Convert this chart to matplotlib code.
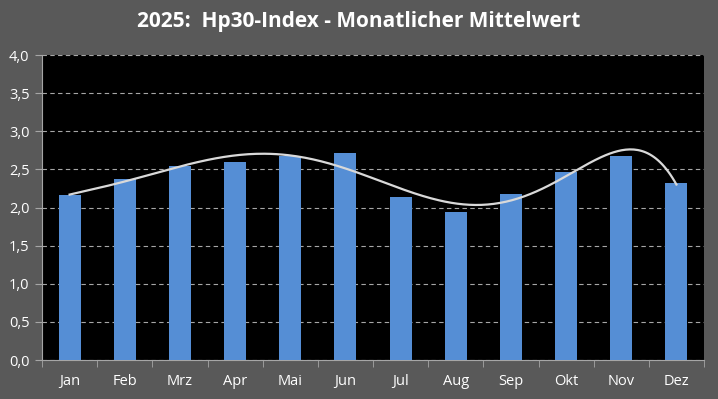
import numpy as np
import matplotlib.pyplot as plt
from matplotlib.ticker import FixedLocator, FuncFormatter

# Daten
monate = ['Jan', 'Feb', 'Mrz', 'Apr', 'Mai', 'Jun', 'Jul', 'Aug', 'Sep', 'Okt', 'Nov', 'Dez']
hp30 = [2.16, 2.37, 2.55, 2.60, 2.67, 2.71, 2.14, 1.94, 2.18, 2.47, 2.68, 2.32]

bg = '#595959'
bar_c = '#558ED5'

plt.rcParams['font.family'] = ['Open Sans', 'DejaVu Sans']

fig = plt.figure(figsize=(7.18, 3.99), dpi=100, facecolor=bg)
ax = fig.add_axes([0.0585, 0.0977, 0.922, 0.7643])
ax.set_facecolor('black')

x = np.arange(len(monate))
ax.bar(x, hp30, width=0.4, color=bar_c, zorder=3)

# polynomische Trendlinie (Ordnung 6), wie in Excel
coef = np.polyfit(x, hp30, 6)
xs = np.linspace(x[0], x[-1], 300)
ax.plot(xs, np.polyval(coef, xs), color='#d9d9d9', lw=1.6, zorder=4)

ax.set_xlim(-0.5, len(monate) - 0.5)
ax.set_ylim(0, 4.0)
ax.set_yticks(np.arange(0, 4.01, 0.5))
ax.yaxis.set_major_formatter(FuncFormatter(lambda v, p: f'{v:.1f}'.replace('.', ',')))
ax.grid(axis='y', color='#a6a6a6', ls=(0, (4, 3)), lw=0.8, zorder=1)

ax.set_xticks(x)
ax.set_xticklabels(monate)
ax.xaxis.set_minor_locator(FixedLocator(np.arange(-0.5, len(monate), 1)))
ax.tick_params(axis='x', which='major', length=0, colors='white', labelsize=10.5, pad=10)
ax.tick_params(axis='x', which='minor', length=5, color='#a6a6a6', direction='out')
ax.tick_params(axis='y', length=5, color='#a6a6a6', labelcolor='white', labelsize=10.5, pad=4)

for s in ['top', 'right']:
    ax.spines[s].set_visible(False)
ax.spines['left'].set_color('#a6a6a6')
ax.spines['bottom'].set_color('#a6a6a6')

fig.text(0.5, 0.945, '2025:  Hp30-Index - Monatlicher Mittelwert', ha='center', va='center',
         color='white', fontsize=15, fontweight='bold')

fig.savefig('out.png', dpi=100, facecolor=bg)
